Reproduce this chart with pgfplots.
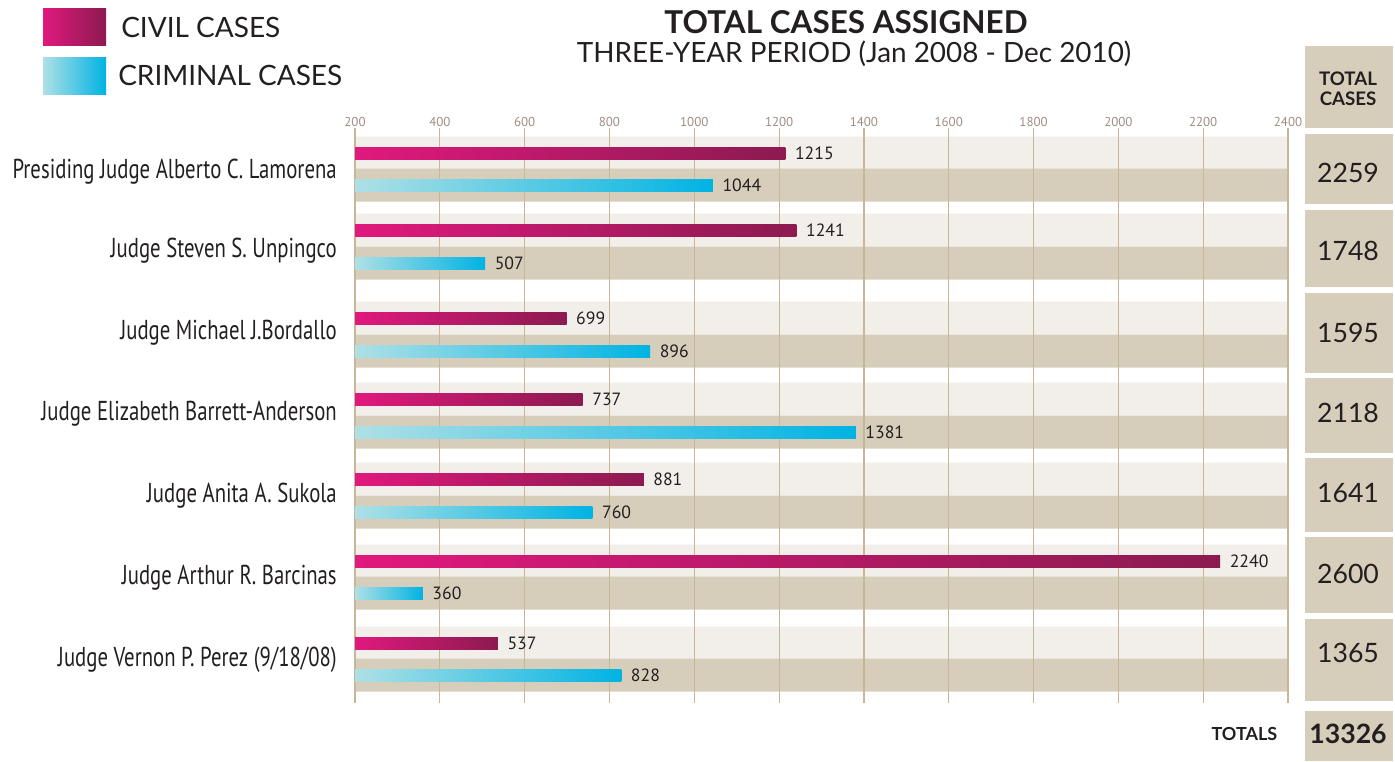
\documentclass[border=0pt]{standalone}
\usepackage{pgfplots}
\usepackage{pgfplotstable}
\pgfplotsset{compat=1.18}
\usepackage{fontspec}
\setmainfont{Lato}
\newfontfamily\condfont[FakeStretch=0.76]{PT Sans}
\newfontfamily\numfont{PT Sans}

\definecolor{bandL}{HTML}{F2EFEA}
\definecolor{bandD}{HTML}{D6CDBB}
\definecolor{gridc}{HTML}{C8B796}
\definecolor{boxc}{HTML}{D6CDBB}
\definecolor{tickc}{HTML}{9E8C83}
\definecolor{txt}{HTML}{231F20}
\definecolor{civL}{HTML}{E0197D}
\definecolor{civR}{HTML}{8C1A50}
\definecolor{crimL}{HTML}{AEE0E5}
\definecolor{crimM}{HTML}{A4DBE5}
\definecolor{crimR}{HTML}{00B3E3}

\pgfkeys{/pgf/number format/.cd, 1000 sep={}, assume math mode=true}

% band rows; y positions are in pixels of the original layout (top = 128, bottom = 703)
\pgfplotstableread{
ypos
153
230
318
399
479
561
643
}\civilrows
\pgfplotstableread{
ypos
185
263
351
432
512
593
675
}\crimrows

% bars start at 200: every x is shifted by -200, the label shows the raw value
\pgfplotsset{
  from200/.style={x filter/.expression={x-200}},
  barlabel/.style={point meta=rawx, nodes near coords, nodes near coords style={font=\numfont\fontsize{13.3}{13}\selectfont,
    text=txt, anchor=west, inner sep=0pt, xshift=7pt}},
  civbar/.style={xbar, bar shift=0pt, bar width=12, draw=none, left color=civL, right color=civR, from200, barlabel},
  crimbar/.style={xbar, bar shift=0pt, bar width=12, draw=none, left color=crimL, middle color=crimM, right color=crimR, from200, barlabel},
}

\begin{document}
\begin{tikzpicture}
\begin{axis}[
  at={(266.25pt,-96pt)}, anchor=north west,
  scale only axis, width=699.75pt, height=431.25pt,
  set layers,
  xmin=0, xmax=2200, ymin=128, ymax=703, y dir=reverse,
  axis line style={draw=none}, major tick length=0pt,
  xtick={0,200,...,2200}, xticklabel pos=upper,
  xticklabels={200,400,600,800,1000,1200,1400,1600,1800,2000,2200,2400},
  xticklabel style={font=\numfont\fontsize{9.7}{10}\selectfont, text=tickc, inner sep=1pt},
  xmajorgrids, major grid style={draw=gridc, line width=0.9pt},
  ytick={172,251,333,414,496,578,660},
  yticklabels={Presiding Judge Alberto C. Lamorena, Judge Steven S. Unpingco, Judge Michael J.Bordallo,
    Judge Elizabeth Barrett-Anderson, Judge Anita A. Sukola, Judge Arthur R. Barcinas, Judge Vernon P. Perez (9/18/08)},
  yticklabel style={font=\condfont\fontsize{20.5}{21}\selectfont, text=txt, inner sep=0pt, xshift=-13.5pt},
]
% row bands
\addplot[xbar, bar shift=0pt, bar width=33, fill=bandL, draw=none, on layer=axis background, forget plot]
  table[x expr=2200, y=ypos] {\civilrows};
\addplot[xbar, bar shift=0pt, bar width=33, fill=bandD, draw=none, on layer=axis background, forget plot]
  table[x expr=2200, y=ypos] {\crimrows};
% civil cases (one plot per bar so each bar gets its own gradient)
\addplot[civbar] coordinates {(1215,153)};
\addplot[civbar] coordinates {(1241,230)};
\addplot[civbar] coordinates {(699,318)};
\addplot[civbar] coordinates {(737,399)};
\addplot[civbar] coordinates {(881,479)};
\addplot[civbar] coordinates {(2240,561)};
\addplot[civbar] coordinates {(537,643)};
% criminal cases
\addplot[crimbar] coordinates {(1044,185)};
\addplot[crimbar] coordinates {(507,263)};
\addplot[crimbar] coordinates {(896,351)};
\addplot[crimbar] coordinates {(1381,432)};
\addplot[crimbar] coordinates {(760,512)};
\addplot[crimbar] coordinates {(360,593)};
\addplot[crimbar] coordinates {(828,675)};
\end{axis}

\begin{scope}[x=0.75pt, y=-0.75pt, every node/.style={text=txt}]
% legend
\shade[left color=civL, right color=civR] (43,8) rectangle (106,45);
\shade[left color=crimL, middle color=crimM, right color=crimR] (43,57) rectangle (106,94);
\node[anchor=west, inner sep=0pt] at (121,27) {\fontsize{21}{21}\selectfont CIVIL CASES};
\node[anchor=west, inner sep=0pt] at (118,75) {\fontsize{21}{21}\selectfont CRIMINAL CASES};
% title
\node at (846,22) {\bfseries\fontsize{23.6}{24}\selectfont TOTAL CASES ASSIGNED};
\node at (854,54) {\fontsize{20.9}{21}\selectfont THREE-YEAR PERIOD (Jan 2008 - Dec 2010)};
% totals column
\fill[boxc] (1305,46) rectangle (1393,128);
\node[align=center, font=\bfseries\fontsize{14}{15}\selectfont] at (1348,89) {TOTAL\\CASES};
\foreach \ya/\yb/\ym/\v in {134/204/173/2259, 210/287/251/1748, 293/373/333/1595, 378/453/413/2118,
    458/532/493/1641, 537/613/574/2600, 619/701/653/1365} {
  \fill[boxc] (1305,\ya) rectangle (1393,\yb);
  \node[font=\fontsize{20}{20}\selectfont] at (1348,\ym) {\v};
}
\fill[boxc] (1305,711) rectangle (1393,761);
\node[font=\bfseries\fontsize{20}{20}\selectfont] at (1348,734) {13326};
\node[anchor=east, font=\bfseries\fontsize{13.5}{14}\selectfont] at (1282,734) {TOTALS};
\pgfresetboundingbox
\useasboundingbox (0,0) rectangle (1395,761);
\end{scope}
\end{tikzpicture}
\end{document}
